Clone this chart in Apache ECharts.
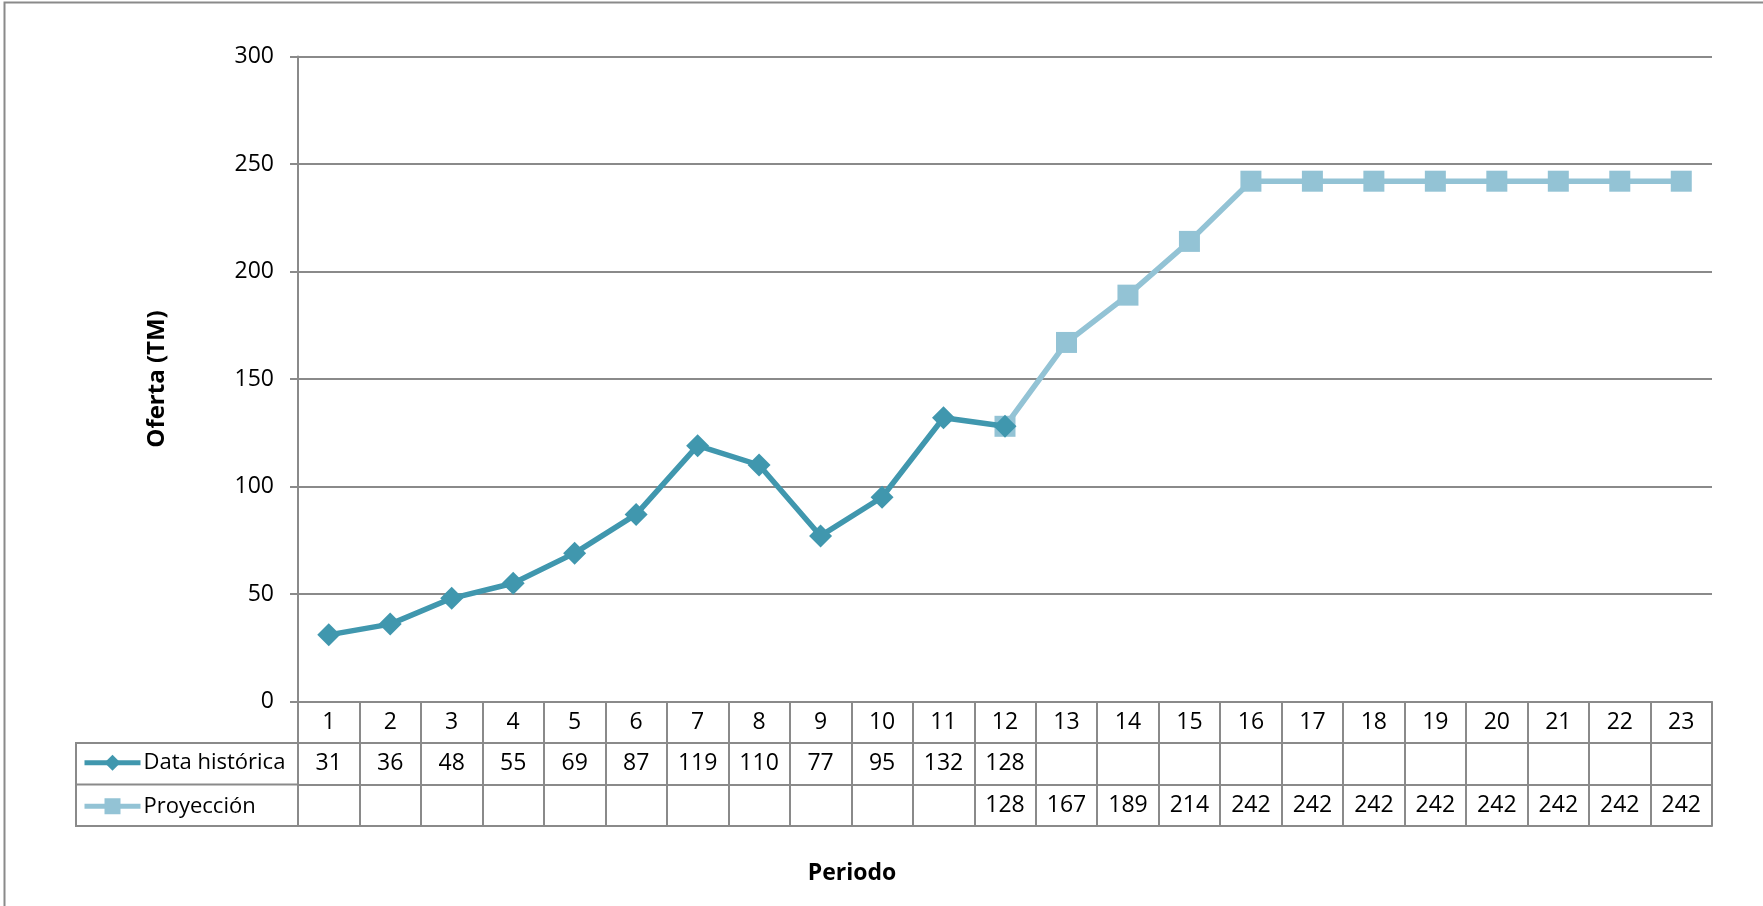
<!DOCTYPE html>
<html>
<head>
<meta charset="utf-8">
<script src="https://cdn.jsdelivr.net/npm/echarts@6/dist/echarts.min.js"></script>
<style>
  html, body { margin: 0; padding: 0; background: #ffffff; }
  #chart { width: 1763px; height: 906px; }
</style>
</head>
<body>
<div id="chart"></div>
<script>
// Periods and supply values (TM)
const periodos = ['1','2','3','4','5','6','7','8','9','10','11','12','13','14','15','16','17','18','19','20','21','22','23'];
const dataHistorica = [31, 36, 48, 55, 69, 87, 119, 110, 77, 95, 132, 128];
const proyeccion = [null, null, null, null, null, null, null, null, null, null, null, 128, 167, 189, 214, 242, 242, 242, 242, 242, 242, 242, 242];
const yTicks = [0, 50, 100, 150, 200, 250, 300];

const FONT = 'Open Sans';
const GRAY = '#8a8a8a';
const C_HIST = '#4097ae';
const C_PROY = '#93c3d5';

const W = 1763, H = 906;
const gridLeft = 298, gridRight = 51, gridTop = 56.5, gridBottom = 204.5;
const rowH = 41.5;
const tableLeft = 76;
const axisY = H - gridBottom;

const chart = echarts.init(document.getElementById('chart'), null, { renderer: 'canvas' });

// One category axis per row of the data table under the plot
function rowAxis(offset, values) {
  return {
    type: 'category',
    gridIndex: 0,
    position: 'bottom',
    offset: offset,
    data: periodos,
    boundaryGap: true,
    axisLine: { show: true, lineStyle: { color: GRAY, width: 2 } },
    axisTick: values === undefined ? { show: false } :
      { show: true, interval: 0, length: rowH, inside: false, lineStyle: { color: GRAY, width: 2 } },
    axisLabel: values === undefined ? { show: false } : {
      show: true, interval: 0, margin: 9,
      fontFamily: FONT, fontSize: 23, color: '#000',
      formatter: (v, i) => (values[i] === null || values[i] === undefined) ? '' : String(values[i])
    },
    splitLine: { show: false }
  };
}

const option = {
  backgroundColor: '#ffffff',
  animation: false,
  textStyle: { fontFamily: FONT },
  grid: { left: gridLeft, right: gridRight, top: gridTop, bottom: gridBottom, containLabel: false },
  legend: {
    orient: 'vertical',
    left: 82,
    padding: 0,
    top: axisY + rowH + (rowH - 20) / 2 - 2,
    itemWidth: 56,
    itemHeight: 20,
    itemGap: rowH - 20,
    lineStyle: { width: 5 },
    textStyle: { fontFamily: FONT, fontSize: 22, color: '#000', padding: [0, 0, 0, -2] },
    data: ['Data histórica', 'Proyección']
  },
  xAxis: [
    rowAxis(0, periodos.map(Number)),
    rowAxis(rowH, dataHistorica),
    rowAxis(rowH * 2, proyeccion),
    Object.assign(rowAxis(rowH * 3), {
      name: 'Periodo', nameLocation: 'middle', nameGap: 36,
      nameTextStyle: { fontFamily: FONT, fontSize: 23, fontWeight: 'bold', color: '#000', padding: [0, 306, 0, 0] }
    })
  ],
  yAxis: {
    type: 'value',
    min: yTicks[0], max: yTicks[yTicks.length - 1], interval: 50,
    name: 'Oferta (TM)', nameLocation: 'middle', nameGap: 119,
    nameTextStyle: { fontFamily: FONT, fontSize: 24, fontWeight: 'bold', color: '#000', padding: [0, 0, 10, 0] },
    axisLine: { show: true, lineStyle: { color: GRAY, width: 2 } },
    axisTick: { show: true, length: 8, inside: false, lineStyle: { color: GRAY, width: 2 } },
    axisLabel: { margin: 24, fontFamily: FONT, fontSize: 23, color: '#000' },
    splitLine: { show: true, lineStyle: { color: GRAY, width: 2 } }
  },
  series: [
    {
      name: 'Proyección', type: 'line', xAxisIndex: 0,
      data: proyeccion, symbol: 'rect', symbolSize: 21,
      lineStyle: { color: C_PROY, width: 5.5 },
      itemStyle: { color: C_PROY },
      z: 2
    },
    {
      name: 'Data histórica', type: 'line', xAxisIndex: 0,
      data: dataHistorica, symbol: 'diamond', symbolSize: 23,
      lineStyle: { color: C_HIST, width: 5.5 },
      itemStyle: { color: C_HIST },
      z: 3
    }
  ],
  graphic: [
    // frame around the whole chart area
    { type: 'rect', left: 2, top: 0, shape: { x: 0, y: 0, width: W + 20, height: H + 20 },
      style: { fill: 'none', stroke: GRAY, lineWidth: 2 }, silent: true },
    // series-name column of the data table
    { type: 'rect', shape: { x: tableLeft, y: axisY + rowH, width: gridLeft - tableLeft, height: rowH * 2 },
      style: { fill: 'none', stroke: GRAY, lineWidth: 2 }, silent: true },
    { type: 'line', shape: { x1: tableLeft, y1: axisY + rowH * 2, x2: gridLeft, y2: axisY + rowH * 2 },
      style: { stroke: GRAY, lineWidth: 2 }, silent: true }
  ]
};

chart.setOption(option);
</script>
</body>
</html>
